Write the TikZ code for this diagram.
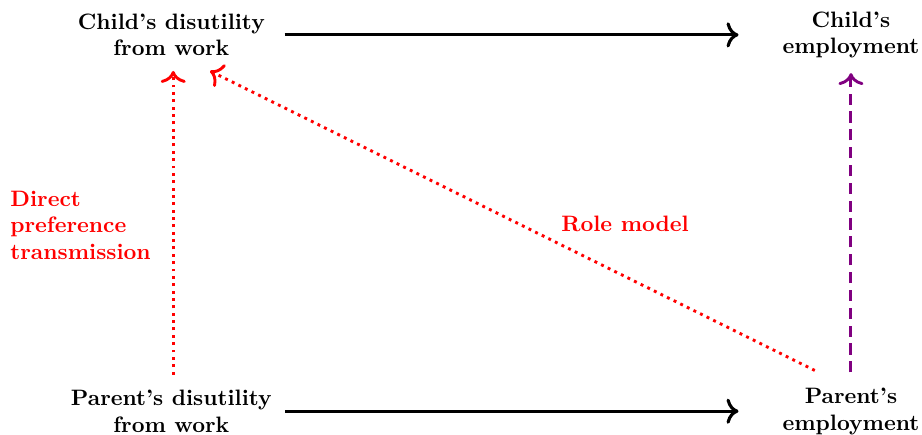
\documentclass[tikz,border=0pt]{standalone}
\usetikzlibrary{positioning,arrows.meta}

\tikzset{
  lbl/.style={font=\bfseries, align=center},
  side/.style={font=\bfseries, align=left, text=red},
  link/.style={-{To[scale=1.15]}, line width=1.4pt, black},
  pref/.style={-{To[scale=1.2]}, line width=1.3pt, red, dotted},
  emp/.style={-{To[scale=1.2]}, line width=1.3pt, violet, dash pattern=on 5pt off 3pt}
}

\begin{document}
\begin{tikzpicture}[scale=1]

\useasboundingbox (0,0) rectangle (14.53,6.84);

% Enfant
\node[lbl] (cd)
at (2.70,6.29)
{Child's disutility\\from work};

\node[lbl] (ce)
at (13.41,6.29)
{Child's\\employment};

% Parent
\node[lbl] (pd)
at (2.70,0.36)
{Parent's disutility\\from work};

\node[lbl] (pe)
at (13.41,0.36)
{Parent's\\employment};

% Fleches horizontales
\draw[link]
([xshift=0.19cm]cd.east)
--
([xshift=-0.57cm]ce.west);

\draw[link]
([xshift=0.09cm]pd.east)
--
([xshift=-0.57cm]pe.west);

% Transmission directe
\draw[pref]
([xshift=0.03cm,yshift=0.12cm]pd.north)
--
([xshift=0.03cm,yshift=-0.11cm]cd.south);

\node[side] (dpt)
at (0.04,3.29)
[anchor=west]
{Direct\\preference\\transmission};

% Modele
\draw[pref]
([xshift=-0.57cm,yshift=0.15cm]pe.north)
--
([xshift=0.61cm,yshift=-0.11cm]cd.south);

\node[side] (rm)
at (9.85,3.31)
{Role model};

% Emploi
\draw[emp]
([yshift=0.12cm]pe.north)
--
([yshift=-0.11cm]ce.south);

\end{tikzpicture}
\end{document}
